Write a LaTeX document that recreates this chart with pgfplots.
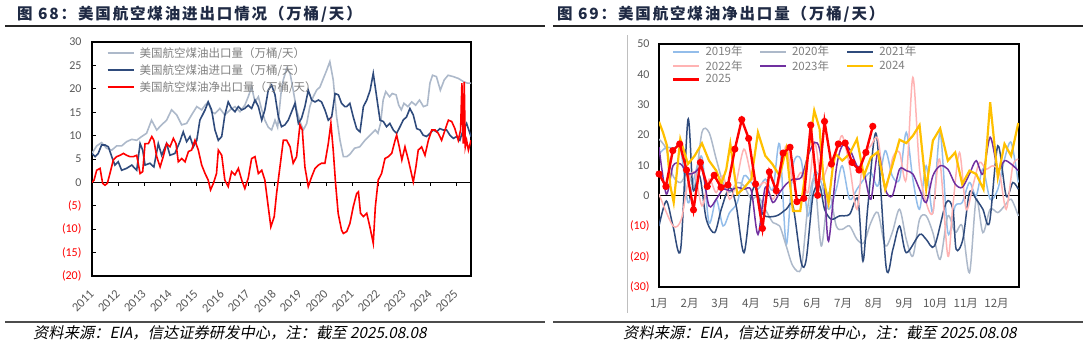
\documentclass[border=0pt]{standalone}
\usepackage{fontspec}
\usepackage{pgfplots}
\pgfplotsset{compat=1.18}
\setmainfont{Carlito}
\newfontfamily\cjk{Noto Sans CJK SC}
\newfontfamily\cjktitle{Noto Sans CJK SC}[LetterSpace=12]
\newfontfamily\cjksl{Noto Sans CJK SC}[FakeSlant=0.2]
\definecolor{titlenavy}{HTML}{1F2A44}
\definecolor{labgray}{HTML}{595959}
\definecolor{leggray}{HTML}{7F7F7F}
\definecolor{negred}{HTML}{FF0000}
\definecolor{expgray}{HTML}{ADB9CA}
\definecolor{impnavy}{HTML}{2F4B7C}
\definecolor{c2019}{HTML}{93BDEA}
\definecolor{c2020}{HTML}{ADB9CA}
\definecolor{c2021}{HTML}{2F4B7C}
\definecolor{c2022}{HTML}{FFB3B3}
\definecolor{c2023}{HTML}{7030A0}
\definecolor{c2024}{HTML}{FFC000}
\definecolor{c2025}{HTML}{FF0000}
\begin{document}
\begin{tikzpicture}
\path[use as bounding box] (0,0) rectangle (1088pt,-346pt);
% titles and rules
\node[anchor=west, inner sep=0pt, text=titlenavy, font=\cjktitle\bfseries\fontsize{15.5}{18}\selectfont] at (17pt,-14pt) {图 68：美国航空煤油进出口情况（万桶/天）};
\node[anchor=west, inner sep=0pt, text=titlenavy, font=\cjktitle\bfseries\fontsize{15.5}{18}\selectfont] at (557pt,-14pt) {图 69：美国航空煤油净出口量（万桶/天）};
\draw[line width=1.3pt, black!85] (5pt,-26pt) -- (545pt,-26pt);
\draw[line width=1.3pt, black!85] (553pt,-26pt) -- (1083pt,-26pt);
\draw[line width=1.1pt, black!70] (5pt,-322pt) -- (545pt,-322pt);
\draw[line width=1.1pt, black!70] (553pt,-322pt) -- (1083pt,-322pt);
\node[anchor=west, inner sep=0pt, font=\cjksl\fontsize{15.3}{17}\selectfont] at (33pt,-333pt) {资料来源：EIA，信达证券研发中心，注：截至 2025.08.08};
\node[anchor=west, inner sep=0pt, font=\cjksl\fontsize{15.3}{17}\selectfont] at (623pt,-333pt) {资料来源：EIA，信达证券研发中心，注：截至 2025.08.08};
\draw[black!25, line width=0.7pt] (627pt,-35pt) -- (627pt,-313pt);

% ---------------- left chart
\begin{axis}[
  at={(92pt,-276pt)}, anchor=south west, scale only axis,
  width=379pt, height=234pt,
  xmin=2011, xmax=2025.58, ymin=-20, ymax=30,
  axis line style={line width=1.2pt, black},
  /pgf/number format/.cd, 1000 sep={}, assume math mode=true, /pgfplots/.cd,
  xtick={2011,2012,...,2025},
  xticklabel style={font=\fontsize{12.5}{13}\selectfont, text=labgray, inner sep=0pt, xshift=0pt, yshift=-16pt, rotate=45, anchor=east},
  xtick style={draw=none},
  ytick={-20,-15,...,30},
  yticklabels={{\color{negred}(20)},{\color{negred}(15)},{\color{negred}(10)},{\color{negred}(5)},0,5,10,15,20,25,30},
  yticklabel style={font=\fontsize{12}{13}\selectfont, text=labgray, xshift=-7pt},
  ytick style={black, line width=0.8pt}, major tick length=4pt, tick align=inside, ytick pos=left,
  extra y ticks={0}, extra y tick labels={},
  extra y tick style={grid=major, major grid style={black, line width=1pt}, ytick style={draw=none}},
  legend image code/.code={\draw[#1, line width=2pt] (0pt,0pt) -- (26pt,0pt);},
  legend cell align=left,
  legend style={at={(0.038,0.985)}, anchor=north west, draw=none, fill=none,
     font=\cjk\fontsize{11.5}{13}\selectfont, text=leggray, row sep=1.5pt, inner sep=0pt,
     /tikz/every odd column/.append style={column sep=3pt}},
]
\addplot[ycomb, black, line width=0.8pt, forget plot] coordinates {(2012,-0.8)(2013,-0.8)(2014,-0.8)(2015,-0.8)(2016,-0.8)(2017,-0.8)(2018,-0.8)(2019,-0.8)(2020,-0.8)(2021,-0.8)(2022,-0.8)(2023,-0.8)(2024,-0.8)(2025,-0.8)};
\addplot[expgray, line width=1.6pt] coordinates {
(2011.00,6.2)(2011.18,7.8)(2011.37,8.5)(2011.56,7.3)(2011.76,6.9)(2011.95,7.8)(2012.14,7.8)(2012.33,8.7)(2012.53,9.2)(2012.72,9.0)(2012.91,9.8)(2013.10,10.5)(2013.29,13.3)(2013.49,11.2)(2013.68,12.3)(2013.87,13.3)(2014.06,15.5)(2014.26,14.4)(2014.45,12.3)(2014.64,12.6)(2014.83,14.4)(2015.03,16.2)(2015.22,15.5)(2015.35,16.5)(2015.47,17.2)(2015.60,15.1)(2015.73,14.7)(2015.92,15.8)(2016.11,14.4)(2016.31,15.5)(2016.50,16.2)(2016.69,15.1)(2016.88,16.5)(2017.01,18.3)(2017.14,20.4)(2017.27,17.2)(2017.40,18.3)(2017.53,15.5)(2017.65,13.3)(2017.78,11.8)(2017.91,11.2)(2018.04,13.3)(2018.14,11.8)(2018.27,19.0)(2018.36,21.9)(2018.49,24.4)(2018.62,23.3)(2018.74,19.7)(2018.87,15.5)(2019.00,13.0)(2019.13,11.2)(2019.26,12.6)(2019.38,16.2)(2019.51,18.3)(2019.64,19.7)(2019.77,20.4)(2019.90,22.2)(2020.03,24.0)(2020.15,25.8)(2020.28,21.9)(2020.41,14.0)(2020.54,9.0)(2020.67,5.5)(2020.80,5.5)(2020.92,6.0)(2021.10,7.3)(2021.30,7.6)(2021.50,9.0)(2021.70,10.1)(2021.90,11.2)(2022.00,10.5)(2022.10,12.6)(2022.20,17.6)(2022.30,19.4)(2022.45,18.3)(2022.55,19.0)(2022.70,18.7)(2022.80,16.5)(2022.90,15.5)(2023.00,16.9)(2023.15,16.2)(2023.30,17.2)(2023.45,16.5)(2023.60,17.6)(2023.75,16.2)(2023.90,16.5)(2024.00,21.2)(2024.10,22.9)(2024.25,22.6)(2024.40,19.7)(2024.55,21.9)(2024.70,22.9)(2024.90,22.6)(2025.10,22.2)(2025.30,21.5)(2025.45,21.2)(2025.58,21.2)};
\addlegendentry{美国航空煤油出口量（万桶/天）}
\addplot[impnavy, line width=1.6pt] coordinates {
(2011.00,6.2)(2011.12,5.5)(2011.24,6.2)(2011.37,8.0)(2011.50,8.0)(2011.63,7.6)(2011.76,5.5)(2011.88,3.7)(2012.01,4.4)(2012.14,2.6)(2012.33,3.0)(2012.53,3.7)(2012.72,2.6)(2012.85,8.3)(2012.95,6.9)(2013.04,3.7)(2013.23,4.1)(2013.38,3.3)(2013.55,8.3)(2013.68,5.8)(2013.87,8.3)(2014.00,5.8)(2014.19,6.2)(2014.38,8.7)(2014.51,10.8)(2014.64,8.7)(2014.77,9.8)(2014.90,7.6)(2015.03,9.0)(2015.15,13.3)(2015.35,15.5)(2015.47,17.2)(2015.60,15.5)(2015.73,11.2)(2015.86,9.0)(2015.99,9.8)(2016.11,14.4)(2016.24,17.2)(2016.37,15.8)(2016.50,15.1)(2016.63,16.2)(2016.76,15.5)(2016.88,15.8)(2017.01,16.5)(2017.14,15.8)(2017.27,17.6)(2017.40,16.2)(2017.53,13.3)(2017.65,15.5)(2017.78,19.7)(2017.91,20.8)(2018.04,18.7)(2018.17,14.0)(2018.29,11.9)(2018.42,12.3)(2018.55,13.3)(2018.68,15.1)(2018.81,16.9)(2018.94,12.6)(2019.06,13.7)(2019.19,16.2)(2019.32,19.7)(2019.45,17.6)(2019.58,17.2)(2019.71,17.6)(2019.83,17.2)(2019.96,15.5)(2020.09,13.3)(2020.22,14.0)(2020.35,19.0)(2020.48,18.7)(2020.60,16.9)(2020.73,16.2)(2020.80,16.2)(2020.92,16.9)(2021.05,14.0)(2021.18,11.5)(2021.31,10.8)(2021.44,16.2)(2021.57,17.6)(2021.70,19.7)(2021.82,23.3)(2021.95,18.3)(2022.08,13.3)(2022.21,13.0)(2022.33,11.9)(2022.46,12.6)(2022.59,11.2)(2022.72,10.5)(2022.85,11.9)(2022.97,13.3)(2023.10,14.0)(2023.23,15.8)(2023.36,14.4)(2023.49,11.5)(2023.62,11.2)(2023.74,10.1)(2023.87,9.8)(2024.00,10.5)(2024.13,11.2)(2024.26,10.8)(2024.38,11.5)(2024.51,11.2)(2024.64,11.2)(2024.77,10.1)(2024.90,9.4)(2025.03,9.8)(2025.15,9.0)(2025.28,11.2)(2025.41,12.6)(2025.58,9.8)};
\addlegendentry{美国航空煤油进口量（万桶/天）}
\addplot[negred, line width=1.6pt] coordinates {
(2011.00,0.0)(2011.08,0.5)(2011.18,2.6)(2011.31,3.0)(2011.41,-0.2)(2011.50,-0.6)(2011.59,-0.2)(2011.69,1.9)(2011.82,4.8)(2011.95,5.5)(2012.08,5.8)(2012.21,6.2)(2012.33,5.8)(2012.46,5.5)(2012.59,5.5)(2012.72,5.8)(2012.85,1.9)(2012.95,2.3)(2013.04,8.3)(2013.17,8.3)(2013.30,9.8)(2013.38,9.0)(2013.49,5.5)(2013.62,3.3)(2013.74,5.5)(2013.87,8.3)(2014.00,7.6)(2014.13,9.4)(2014.23,8.3)(2014.32,4.4)(2014.45,5.1)(2014.58,4.4)(2014.71,6.6)(2014.83,6.9)(2014.96,9.0)(2015.09,6.9)(2015.22,3.7)(2015.35,1.9)(2015.47,0.5)(2015.56,-1.6)(2015.67,-0.2)(2015.79,1.9)(2015.86,6.9)(2015.99,5.8)(2016.11,0.5)(2016.24,-0.9)(2016.37,2.3)(2016.50,1.6)(2016.63,3.0)(2016.76,0.5)(2016.88,-1.3)(2017.01,0.9)(2017.14,5.1)(2017.27,5.5)(2017.40,1.9)(2017.53,2.6)(2017.65,0.5)(2017.78,-5.2)(2017.88,-9.5)(2018.01,-7.3)(2018.10,-2.4)(2018.23,3.3)(2018.36,9.0)(2018.49,9.0)(2018.62,7.6)(2018.74,4.1)(2018.87,5.5)(2019.00,12.3)(2019.09,11.2)(2019.19,3.3)(2019.32,-0.9)(2019.45,1.2)(2019.58,3.0)(2019.71,3.7)(2019.83,4.1)(2019.96,4.1)(2020.09,8.3)(2020.19,12.6)(2020.28,6.9)(2020.37,-0.2)(2020.47,-6.6)(2020.60,-10.2)(2020.67,-10.9)(2020.80,-10.5)(2020.92,-8.8)(2021.05,-5.2)(2021.18,-2.4)(2021.25,-2.0)(2021.33,-6.6)(2021.44,-7.3)(2021.57,-6.6)(2021.69,-9.5)(2021.82,-13.0)(2021.90,-5.2)(2022.01,0.5)(2022.14,1.9)(2022.27,5.1)(2022.40,5.5)(2022.53,6.2)(2022.66,9.0)(2022.72,10.1)(2022.82,7.6)(2022.92,4.8)(2023.04,7.6)(2023.17,4.8)(2023.26,2.6)(2023.36,0.1)(2023.46,3.3)(2023.55,6.9)(2023.68,7.6)(2023.81,5.8)(2023.94,9.0)(2024.07,11.2)(2024.20,11.2)(2024.32,10.5)(2024.45,9.0)(2024.58,11.2)(2024.71,13.3)(2024.84,13.0)(2024.96,11.5)(2025.09,9.0)(2025.18,11.2)(2025.23,21.2)(2025.28,8.3)(2025.32,21.5)(2025.36,7.6)(2025.41,9.0)(2025.48,6.9)(2025.58,9.0)};
\addlegendentry{美国航空煤油净出口量（万桶/天）}
\end{axis}

% ---------------- right chart
\begin{axis}[
  at={(659pt,-287pt)}, anchor=south west, scale only axis,
  width=360pt, height=243pt,
  xmin=1, xmax=53.2, ymin=-30, ymax=50,
  axis line style={line width=1.2pt, black},
  xtick={1,5.449,9.898,14.347,18.796,23.245,27.694,32.143,36.592,41.041,45.49,49.939},
  xticklabels={1月,2月,3月,4月,5月,6月,7月,8月,9月,10月,11月,12月},
  xticklabel style={font=\cjk\fontsize{11.5}{12}\selectfont, text=labgray, inner sep=0pt, yshift=-11pt},
  xtick style={draw=none},
  ytick={-30,-20,...,50},
  yticklabels={{\color{negred}(30)},{\color{negred}(20)},{\color{negred}(10)},0,10,20,30,40,50},
  yticklabel style={font=\fontsize{12}{13}\selectfont, text=labgray, xshift=-6pt},
  ytick style={draw=none},
  extra y ticks={0}, extra y tick labels={},
  extra y tick style={grid=major, major grid style={black, line width=1pt}},
  legend image code/.code={\draw[#1] (0pt,0pt) -- (26pt,0pt);},
  legend columns=3,
  legend cell align=left,
  legend style={at={(0.036,1.0)}, anchor=north west, draw=none, fill=none,
     font=\cjk\fontsize{11.5}{13}\selectfont, text=leggray, row sep=-1pt, inner sep=0pt,
     /tikz/every odd column/.append style={column sep=3pt},
     /tikz/every even column/.append style={column sep=15pt}},
]
\addplot[ycomb, black, line width=0.8pt, forget plot] coordinates {(5.449,-1)(9.898,-1)(14.347,-1)(18.796,-1)(23.245,-1)(27.694,-1)(32.143,-1)(36.592,-1)(41.041,-1)(45.49,-1)(49.939,-1)};
\addplot[c2019, line width=1.5pt, smooth] coordinates {
(1,13.8)(2.06,16.0)(3.03,15.6)(4.14,15.4)(5.2,-2.2)(6.17,6.6)(7.23,12.7)(8.25,-8.8)(9.3,-1.1)(10.28,-9.9)(11.24,-5.5)(12.35,-2.2)(13.32,6.6)(14.38,4.4)(15.35,2.2)(16.41,5.5)(17.52,2.2)(18.49,17.1)(19.45,-16.0)(20.42,9.9)(21.63,11.6)(22.6,-6.6)(23.56,7.7)(24.53,4.4)(25.59,-4.4)(26.7,2.2)(27.57,9.9)(28.63,-1.1)(29.7,2.2)(30.71,5.5)(31.72,7.7)(32.74,3.3)(33.8,14.9)(34.82,6.6)(35.88,5.5)(36.85,20.9)(37.81,5.5)(38.78,-4.4)(39.74,9.9)(40.71,-5.5)(41.77,20.9)(42.88,-12.1)(43.95,-3.3)(44.96,-2.2)(46.02,4.4)(46.99,0)(47.96,8.8)(49.02,-1.1)(50.13,2.2)(51.1,12.1)(52.06,17.6)(53.1,4.4)};
\addlegendentry{2019年}
\addplot[c2020, line width=1.5pt, smooth] coordinates {
(1,18.7)(2.06,15.4)(3.03,6.6)(4.14,4.4)(5.2,7.7)(6.17,3.3)(7.23,20.9)(8.25,20.9)(9.3,12.1)(10.28,4.4)(11.24,1.1)(12.35,4.4)(13.32,3.3)(14.38,-1.1)(15.35,0)(16.41,-4.4)(17.52,-8.8)(18.49,-9.9)(19.45,-16.5)(20.42,-23.1)(21.63,-23.7)(22.6,-3.3)(23.56,5.5)(24.53,-16.5)(25.59,1.1)(26.7,-9.9)(27.57,-11.0)(28.63,-9.9)(29.7,-14.3)(30.71,-15.4)(31.72,-8.8)(32.74,-5.5)(33.8,-16.5)(34.82,-12.1)(35.88,-4.4)(36.85,-14.3)(37.81,-19.8)(38.78,-7.7)(39.74,-6.6)(40.71,-12.1)(41.77,-20.9)(42.88,-6.6)(43.95,-12.1)(44.96,-9.9)(46.02,-25.3)(46.99,-1.1)(47.96,-12.1)(49.02,-4.4)(50.13,-5.5)(51.1,-3.3)(52.06,-1.1)(53.1,-6.6)};
\addlegendentry{2020年}
\addplot[c2021, line width=1.5pt, smooth] coordinates {
(1,-9.9)(2.06,-1.7)(3.03,-9.9)(4.14,-17.6)(5.2,25.1)(5.93,2.2)(6.9,6.6)(7.86,-7.7)(9.07,-12.1)(10.03,-4.4)(11.24,2.8)(12.2,-3.3)(13.32,-18.7)(14.38,0)(15.1,2.8)(16.07,-6.1)(18.0,-6.6)(19.45,-4.4)(20.42,-3.3)(21.63,-22.0)(22.35,-20.9)(23.32,0)(24.29,3.3)(25.01,-4.4)(25.98,-7.7)(27.18,-6.6)(28.63,-6.1)(29.84,-1.1)(30.57,-21.5)(31.29,-3.3)(32.5,20.4)(33.95,-23.7)(34.91,-17.6)(35.88,-9.9)(36.85,-18.7)(38.78,-12.7)(39.74,-14.3)(40.95,-16.5)(42.64,-2.2)(43.61,-4.4)(44.09,-17.6)(45.06,-14.3)(46.02,1.1)(46.99,-1.1)(47.96,-4.4)(48.92,-8.8)(50.13,16.5)(51.34,0)(52.3,4.4)(53.1,2.2)};
\addlegendentry{2021年}
\addplot[c2022, line width=1.5pt, smooth] coordinates {
(1,0.6)(3.03,-9.9)(4.24,-7.7)(5.2,4.4)(6.17,7.7)(7.23,-3.3)(8.25,5.5)(9.3,1.1)(10.28,6.6)(11.24,-1.1)(12.2,4.4)(13.32,15.4)(14.38,6.6)(15.35,3.3)(16.41,4.4)(17.52,-1.1)(18.49,5.5)(19.45,16.5)(20.42,4.4)(21.63,7.7)(22.6,1.1)(23.56,17.6)(24.53,5.5)(25.59,10.5)(26.7,14.3)(27.57,19.8)(28.63,9.9)(29.7,-4.4)(30.57,12.1)(31.72,16.5)(32.74,18.7)(33.8,2.2)(34.91,12.7)(35.88,14.3)(36.85,5.5)(37.81,39.0)(38.78,8.8)(39.74,-2.2)(40.71,-5.5)(41.68,12.1)(42.88,-19.8)(43.61,-3.3)(44.57,14.3)(45.54,-4.4)(46.51,3.3)(47.47,11.0)(48.44,8.8)(49.41,9.9)(50.37,7.7)(51.34,-4.4)(52.3,9.9)(53.1,12.1)};
\addlegendentry{2022年}
\addplot[c2023, line width=1.5pt, smooth] coordinates {
(1,16.0)(2.06,0.6)(3.03,9.9)(4.14,10.5)(5.2,7.2)(6.17,7.7)(7.23,8.8)(8.25,-3.3)(9.3,-1.1)(10.28,2.2)(11.24,1.7)(12.35,2.8)(13.32,2.2)(14.38,1.7)(15.35,-12.7)(16.41,2.8)(17.52,-2.2)(18.49,1.1)(19.45,3.9)(20.42,5.5)(21.63,6.1)(22.6,13.2)(23.56,17.6)(24.29,15.4)(25.01,2.2)(25.59,-14.9)(26.7,8.8)(27.57,16.5)(28.63,15.4)(29.7,9.9)(30.71,7.7)(31.72,-1.1)(32.74,14.3)(33.8,2.2)(34.82,0)(35.88,8.8)(36.85,8.3)(37.81,7.2)(38.78,2.2)(39.74,-2.2)(40.71,6.6)(41.77,9.9)(42.88,8.8)(43.95,3.9)(44.96,2.8)(46.02,7.2)(46.99,11.6)(47.96,7.2)(49.02,19.3)(50.13,8.8)(51.1,11.6)(52.06,10.5)(53.1,8.3)};
\addlegendentry{2023年}
\addplot[c2024, line width=2.2pt] coordinates {
(1,24.4)(1.58,20.9)(2.16,16.5)(2.64,3.3)(3.13,-2.2)(4.09,18.7)(5.2,10.5)(6.17,13.2)(7.23,17.3)(8.25,11.6)(9.3,8.3)(10.03,3.9)(10.76,8.8)(11.34,17.1)(11.97,6.6)(12.35,0.6)(13.17,2.2)(14.38,5.5)(15.35,20.9)(16.41,13.2)(17.43,10.5)(18.49,6.6)(19.45,15.4)(20.42,-5.0)(21.48,-5.0)(22.35,9.9)(23.51,28.1)(24.29,22.0)(24.86,5.5)(25.59,-2.4)(26.22,9.9)(26.6,13.8)(27.57,11.6)(28.63,13.8)(29.7,18.7)(30.71,6.6)(31.72,12.7)(32.74,14.5)(33.8,2.2)(34.82,9.9)(35.88,18.5)(36.85,17.4)(37.81,19.8)(38.78,23.3)(39.74,2.2)(40.71,18.2)(41.77,22.2)(42.88,11.6)(43.95,14.3)(44.96,3.9)(46.02,8.3)(46.99,7.2)(48.05,2.2)(49.02,30.8)(50.13,6.1)(51.1,17.1)(52.06,13.2)(53.1,24.0)};
\addlegendentry{2024}
\addplot[c2025, line width=2.4pt, mark=*, mark size=2.3pt, mark options={fill=c2025, draw=c2025}] coordinates {
(1,7.2)(2,3.1)(3,14.9)(4,17.1)(5,8.5)(6,-4.6)(7,11.0)(8,3.1)(9,6.8)(10,2.8)(11,3.6)(12,15.4)(13,25.1)(14,18.9)(15,3.9)(16,-10.7)(17,7.9)(18,1.7)(19,14.1)(20,16.0)(21,-1.9)(22,-0.8)(23,23.3)(24,0.2)(25,24.5)(26,10.5)(27,17.1)(28,17.4)(29,11.0)(30,8.5)(31,14.3)(32,22.9)};
\addlegendentry{2025}
\end{axis}
\end{tikzpicture}
\end{document}
